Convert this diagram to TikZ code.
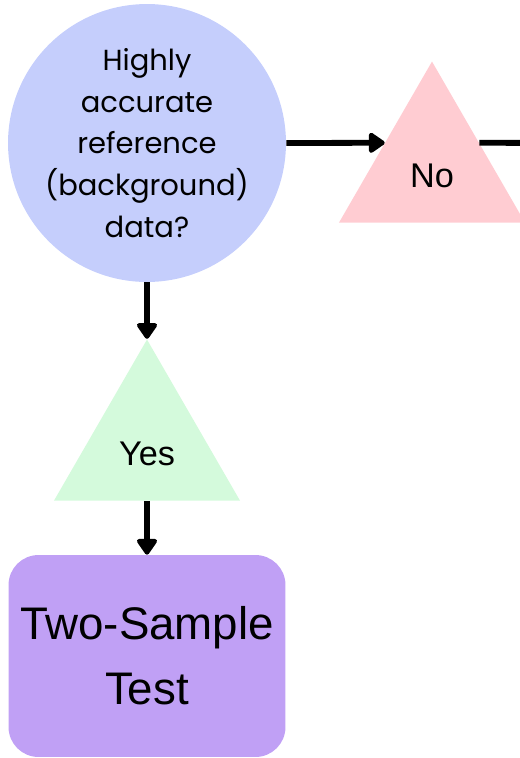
\documentclass[tikz,border=0pt]{standalone}
\usepackage{fontspec}
\setmainfont{Liberation Sans}
\newfontfamily\roundfont{Poppins}
\usetikzlibrary{shapes.geometric}
\usetikzlibrary{arrows.meta}
\definecolor{questionblue}{RGB}{197,206,252}
\definecolor{nopink}{RGB}{255,204,210}
\definecolor{yesgreen}{RGB}{212,250,220}
\definecolor{testpurple}{RGB}{192,160,245}
\tikzset{>={Triangle[width=13pt,length=10pt,round]}}
\tikzset{
	question/.style={circle, fill=questionblue, inner sep=0pt, minimum size=5.56cm, align=center, font=\roundfont\fontsize{16.5}{23.8}\selectfont},
	answer/.style={regular polygon, regular polygon sides=3, minimum size=4.3cm, inner sep=0pt, font=\fontsize{19.5}{22}\selectfont},
	result/.style={rounded corners=0.6cm, minimum width=5.54cm, minimum height=4.04cm, align=center, fill=testpurple, font=\fontsize{26}{37}\selectfont},
	flow/.style={->, line width=3.3pt}
}
\newcommand{\lowtext}[1]{\raisebox{-10.4pt}[0pt][0pt]{#1}}

\begin{document}
\begin{tikzpicture}[x=0.02cm, y=-0.02cm]

	\path[use as bounding box, clip] (0,0) rectangle (520,758);

	\node[question] (data) at (147,143) {Highly\\accurate\\reference\\(background)\\data?};
	\node[answer, fill=nopink] (no) at (432,169) {\lowtext{No}};
	\node[answer, fill=yesgreen] (yes) at (147,447) {\lowtext{Yes}};
	\node[result] (test) at (147,656) {Two-Sample\\Test};
	\coordinate (offpage) at (560,143);

	\draw[flow] (data.east) -- (no.151);
	\draw[flow] (no.29) -- (offpage);
	\draw[flow] (data.south) -- (yes.corner 1);
	\draw[flow] (yes.south) -- (test.north);
\end{tikzpicture}
\end{document}
